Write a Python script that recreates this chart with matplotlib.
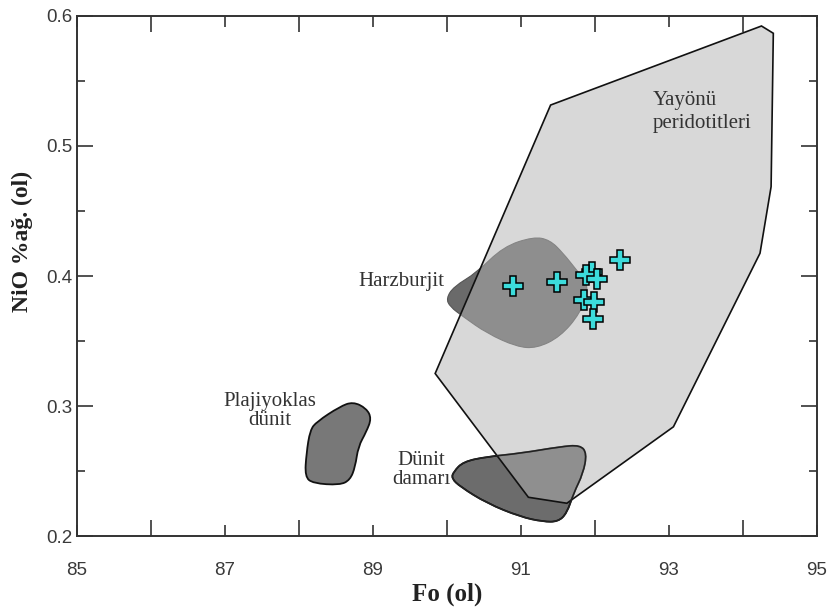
import numpy as np
import matplotlib
matplotlib.use("Agg")
import matplotlib.pyplot as plt
from matplotlib.path import Path
from matplotlib.patches import Polygon, PathPatch

# Yayonu peridotitleri field (polygon)
yay_x = [89.84, 91.40, 94.25, 94.41, 94.38, 94.23, 93.06, 91.62, 91.10]
yay_y = [0.325, 0.5315, 0.5923, 0.5867, 0.4687, 0.4175, 0.284, 0.2252, 0.2298]

# Harzburjit field
harz_x = [89.99, 90.09, 90.40, 90.76, 91.17, 91.39, 91.57, 91.75, 91.93,
          91.80, 91.53, 91.21, 90.94, 90.54, 90.22, 90.04]
harz_y = [0.3828, 0.3918, 0.4025, 0.4225, 0.4302, 0.4277, 0.4175, 0.4046, 0.3918,
          0.3713, 0.3533, 0.3444, 0.3456, 0.3559, 0.3687, 0.3764]

# Dunit damari field
dam_x = [90.09, 90.22, 90.54, 90.99, 91.53, 91.80, 91.89, 91.84, 91.71,
         91.62, 91.50, 91.30, 90.99, 90.54, 90.18, 90.06]
dam_y = [0.2495, 0.2572, 0.2610, 0.2636, 0.2687, 0.2700, 0.2636, 0.2482, 0.2328,
         0.2175, 0.2110, 0.2110, 0.2148, 0.2252, 0.2379, 0.2444]

# Plajiyoklas dunit field
plj_x = [88.15, 88.24, 88.55, 88.73, 88.91, 88.98, 88.91, 88.80, 88.76,
         88.69, 88.55, 88.19, 88.08, 88.10]
plj_y = [0.2815, 0.2879, 0.2995, 0.3033, 0.2982, 0.2905, 0.2802, 0.2687, 0.2533,
         0.2431, 0.2392, 0.2405, 0.2456, 0.2636]

# olivine analyses
fo = [90.89, 91.48, 91.955, 91.88, 92.03, 92.34, 91.85, 91.99, 91.97]
nio = [0.3925, 0.3956, 0.4033, 0.4010, 0.3976, 0.4123, 0.3815, 0.3797, 0.3667]


def blob_path(xs, ys):
    # closed smooth outline (quadratic bezier through midpoints)
    pts = np.column_stack([xs, ys])
    mids = (pts + np.roll(pts, -1, axis=0)) / 2
    verts = [mids[-1]]
    codes = [Path.MOVETO]
    for i in range(len(pts)):
        verts += [pts[i], mids[i]]
        codes += [Path.CURVE3, Path.CURVE3]
    verts.append(mids[-1])
    codes.append(Path.CLOSEPOLY)
    return Path(verts, codes)


plt.rcParams['font.family'] = ['Liberation Serif', 'DejaVu Serif']

fig = plt.figure(figsize=(8.29, 6.08), dpi=100)
ax = fig.add_axes([0.0929, 0.1184, 0.8926, 0.8553])

ax.add_patch(PathPatch(blob_path(plj_x, plj_y), facecolor='#787878', edgecolor='#111111', lw=1.3, zorder=1))
ax.add_patch(PathPatch(blob_path(harz_x, harz_y), facecolor='#6a6a6a', edgecolor='#555555', lw=0.8, zorder=1))
ax.add_patch(PathPatch(blob_path(dam_x, dam_y), facecolor='#6c6c6c', edgecolor='#111111', lw=1.3, zorder=1))

ax.add_patch(Polygon(np.column_stack([yay_x, yay_y]), closed=True,
                     facecolor=(0.70, 0.70, 0.70, 0.5), edgecolor='#111111', lw=1.2, zorder=2))
# damar outline again on top
ax.add_patch(PathPatch(blob_path(dam_x, dam_y), facecolor='none', edgecolor='#222222', lw=1.1, zorder=3))

ax.plot(fo, nio, linestyle='none', marker='P', markersize=14,
        markerfacecolor='#3cdcdc', markeredgecolor='black', markeredgewidth=1.1, zorder=5)

txt = dict(fontsize=15, color='#333333')
ax.text(92.78, 0.526, 'Yayönü\nperidotitleri', ha='left', va='center', linespacing=1.25, **txt)
ax.text(89.96, 0.396, 'Harzburjit', ha='right', va='center', **txt)
ax.text(87.61, 0.2958, 'Plajiyoklas\ndünit', ha='center', va='center', multialignment='center',
        linespacing=1.0, **txt)
ax.text(89.65, 0.2508, 'Dünit\ndamarı', ha='center', va='center', multialignment='center',
        linespacing=1.0, **txt)

ax.set_xlim(85, 95)
ax.set_ylim(0.2, 0.6)
ax.set_xticks([85, 87, 89, 91, 93, 95])
ax.set_xticks([86, 88, 90, 92, 94], minor=True)
ax.set_yticks([0.2, 0.3, 0.4, 0.5, 0.6])
ax.set_yticks([0.25, 0.35, 0.45, 0.55], minor=True)
ax.set_yticklabels(['0.2', '0.3', '0.4', '0.5', '0.6'])

for s in ax.spines.values():
    s.set_linewidth(1.4)
    s.set_color('#333333')
ax.tick_params(which='both', direction='in', top=True, right=True, width=1.2, color='#333333',
               labelcolor='#3a3a3a')
ax.tick_params(axis='x', which='major', length=8, pad=19)
ax.tick_params(axis='x', which='minor', length=11.5)
ax.tick_params(axis='y', which='major', length=11.5, pad=3.5)
ax.tick_params(axis='y', which='minor', length=6)
for lab in ax.get_xticklabels() + ax.get_yticklabels():
    lab.set_fontfamily('Liberation Sans')
    lab.set_fontsize(13.5)

ax.set_xlabel('Fo (ol)', fontsize=18, fontweight='bold', color='#222222', va='center')
ax.xaxis.set_label_coords(0.5, -0.113)
ax.set_ylabel('NiO %ağ. (ol)', fontsize=17, fontweight='bold', color='#222222', va='center')
ax.yaxis.set_label_coords(-0.074, 0.567)

fig.savefig('out.png', dpi=100)
